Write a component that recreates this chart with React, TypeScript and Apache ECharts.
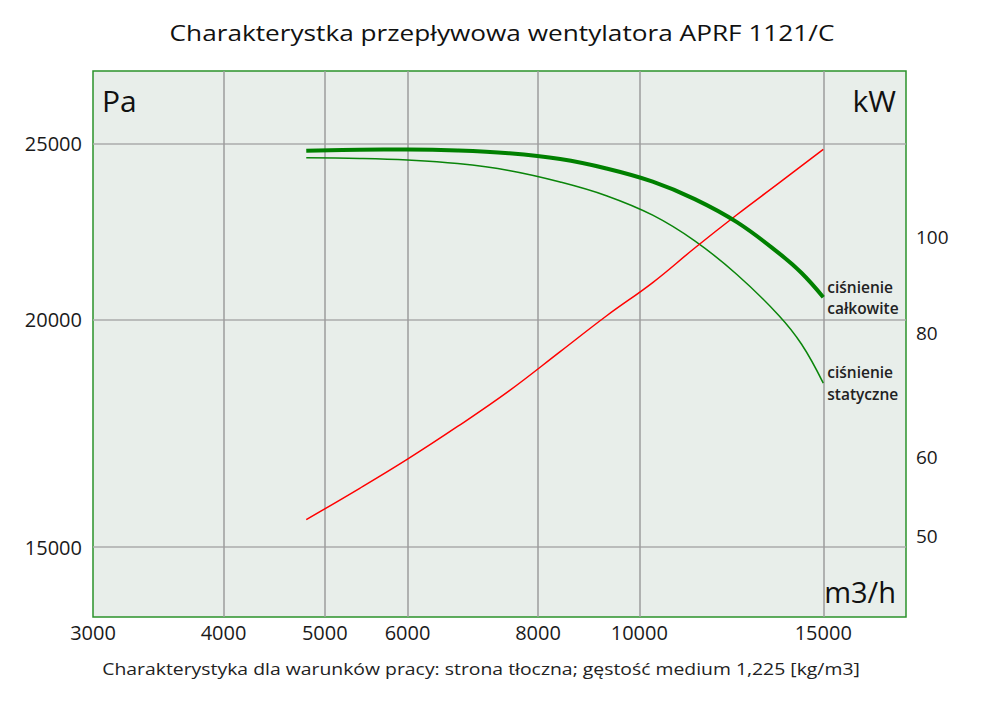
import React, { useEffect, useRef } from 'react';
import * as echarts from 'echarts';

// Axis tick values
const xTickLabels = [3000, 4000, 5000, 6000, 8000, 10000, 15000];
const xGridValues = [4000, 5000, 6000, 8000, 10000, 15000];
const paTicks = [15000, 20000, 25000];
const kwTicks = [50, 60, 80, 100];

// Flow values [m3/h] at which the pressure curves were read
const pressureFlow = [4800, 5400, 6000, 6700, 7500, 8400, 9300, 10300, 11300, 12400, 13600, 14300, 15000];

// ciśnienie całkowite [Pa]
const totalPressure = [24770, 24800, 24810, 24780, 24690, 24510, 24220, 23820, 23300, 22630, 21760, 21220, 20580];

// ciśnienie statyczne [Pa]
const staticPressure = [24550, 24530, 24480, 24370, 24160, 23810, 23400, 22830, 22100, 21180, 20110, 19390, 18460];

// Flow values [m3/h] at which the power curve was read
const powerFlow = [4800, 5400, 6000, 6700, 7500, 8400, 9300, 10300, 11300, 12400, 13600, 15000];

// moc [kW]
const powerKW = [51.9, 55.8, 59.7, 64.4, 69.9, 76.6, 83.2, 89.9, 97.4, 105.2, 113.2, 122.4];

const titleText = 'Charakterystka przepływowa wentylatora APRF 1121/C';
const subtitleText = 'Charakterystyka dla warunków pracy: strona tłoczna; gęstość medium 1,225 [kg/m3]';

const zip = (xs: number[], ys: number[]) => xs.map((x, i) => [x, ys[i]]);
const fmt = (v: number) => String(Math.round(v));

function measure(text: string, font: string): number {
  const c = document.createElement('canvas');
  const ctx = c.getContext('2d');
  if (!ctx) return 0;
  ctx.font = font;
  return ctx.measureText(text).width;
}

export default function App() {
  const ref = useRef<HTMLDivElement>(null);
  useEffect(() => {
    document.body.style.margin = '0';
    const chart = echarts.init(ref.current as HTMLDivElement, null, { renderer: 'svg' });
    const font = 'Open Sans';
    const textColor = '#1a1a1a';
    const titleFont = `21px "${font}"`;
    const subFont = `16px "${font}"`;
    const tw = measure(titleText, titleFont);
    const sw = measure(subtitleText, subFont);
    const titleScale = tw > 0 ? 665 / tw : 1;
    const subScale = sw > 0 ? 758 / sw : 1;
    chart.setOption({
      animation: false,
      backgroundColor: '#ffffff',
      textStyle: { fontFamily: font },
      grid: {
        left: 93,
        right: 94,
        top: 71,
        bottom: 89,
        show: true,
        backgroundColor: '#e8eeea',
        borderColor: '#2b922b',
        borderWidth: 1.5,
      },
      xAxis: {
        type: 'log',
        logBase: 10,
        min: 3000,
        max: 18000,
        axisLine: { show: false },
        axisTick: { show: false, customValues: xGridValues },
        splitLine: { show: true, lineStyle: { color: '#9c9c9c', width: 1.5 } },
        axisLabel: {
          customValues: xTickLabels,
          formatter: fmt,
          fontSize: 20,
          color: textColor,
          margin: 5,
          fontFamily: font,
        },
      },
      yAxis: [
        {
          type: 'log',
          logBase: 10,
          min: 13730,
          max: 27400,
          position: 'left',
          axisLine: { show: false },
          axisTick: { show: false, customValues: paTicks },
          splitLine: { show: true, lineStyle: { color: '#ababab', width: 1.5 } },
          axisLabel: {
            customValues: paTicks,
            formatter: fmt,
            fontSize: 20,
            color: textColor,
            margin: 11,
            fontFamily: font,
          },
        },
        {
          type: 'log',
          logBase: 10,
          min: 41.41,
          max: 146.8,
          position: 'right',
          axisLine: { show: false },
          axisTick: { show: false, customValues: kwTicks },
          splitLine: { show: false },
          axisLabel: {
            customValues: kwTicks,
            formatter: fmt,
            fontSize: 19,
            color: textColor,
            margin: 10,
            fontFamily: font,
          },
        },
      ],
      series: [
        {
          name: 'ciśnienie całkowite',
          type: 'line',
          yAxisIndex: 0,
          data: zip(pressureFlow, totalPressure),
          smooth: 0.4,
          showSymbol: false,
          symbol: 'none',
          lineStyle: { color: '#008000', width: 4 },
          z: 4,
          endLabel: {
            show: true,
            formatter: 'ciśnienie\ncałkowite',
            distance: 4,
            fontSize: 15.5,
            fontWeight: 600,
            lineHeight: 21,
            color: '#222222',
            fontFamily: font,
          },
        },
        {
          name: 'ciśnienie statyczne',
          type: 'line',
          yAxisIndex: 0,
          data: zip(pressureFlow, staticPressure),
          smooth: 0.4,
          showSymbol: false,
          symbol: 'none',
          lineStyle: { color: '#0a850a', width: 1.5 },
          z: 3,
          endLabel: {
            show: true,
            formatter: 'ciśnienie\nstatyczne',
            distance: 4,
            fontSize: 15.5,
            fontWeight: 600,
            lineHeight: 22,
            color: '#222222',
            fontFamily: font,
          },
        },
        {
          name: 'moc',
          type: 'line',
          yAxisIndex: 1,
          data: zip(powerFlow, powerKW),
          smooth: 0.4,
          showSymbol: false,
          symbol: 'none',
          lineStyle: { color: '#ff0000', width: 1.5 },
          z: 3,
        },
      ],
      graphic: [
        {
          type: 'text',
          x: 502,
          y: 33,
          scaleX: titleScale,
          style: {
            text: titleText,
            textAlign: 'center',
            textVerticalAlign: 'middle',
            font: titleFont,
            fill: '#111111',
          },
        },
        {
          type: 'text',
          x: 481,
          y: 669,
          scaleX: subScale,
          style: {
            text: subtitleText,
            textAlign: 'center',
            textVerticalAlign: 'middle',
            font: subFont,
            fill: '#222222',
          },
        },
        {
          type: 'text',
          x: 102,
          y: 100,
          style: {
            text: 'Pa',
            textAlign: 'left',
            textVerticalAlign: 'middle',
            font: `30px "${font}"`,
            fill: '#111111',
          },
        },
        {
          type: 'text',
          x: 896,
          y: 100,
          style: {
            text: 'kW',
            textAlign: 'right',
            textVerticalAlign: 'middle',
            font: `30px "${font}"`,
            fill: '#111111',
          },
        },
        {
          type: 'text',
          x: 896,
          y: 591,
          style: {
            text: 'm3/h',
            textAlign: 'right',
            textVerticalAlign: 'middle',
            font: `29px "${font}"`,
            fill: '#111111',
          },
        },
      ],
    });
    return () => chart.dispose();
  }, []);
  return <div ref={ref} style={{ position: 'absolute', left: 0, top: 0, width: 1000, height: 706 }} />;
}
